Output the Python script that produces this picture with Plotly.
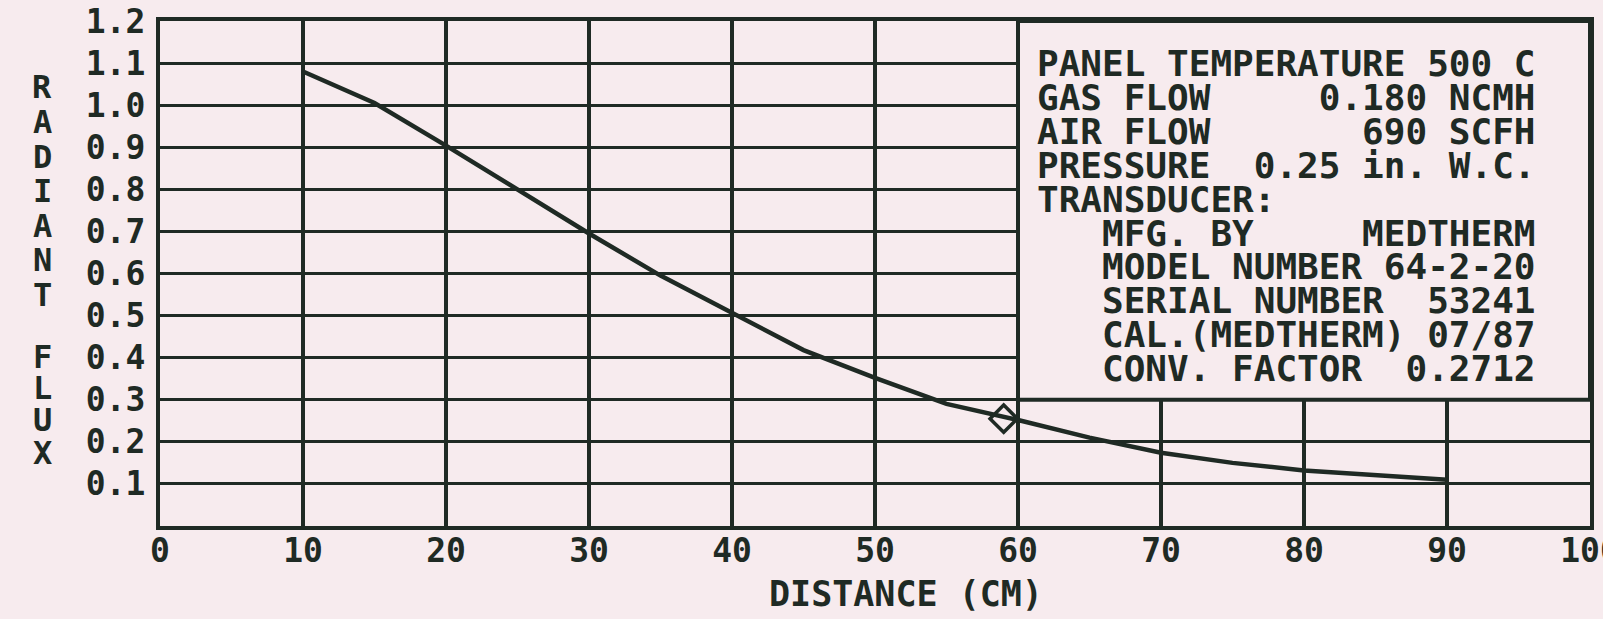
import plotly.graph_objects as go

# ---- data ----
distance_cm = [10, 15, 20, 25, 30, 35, 40, 45, 50, 55, 60, 65, 70, 75, 80, 85, 90]
radiant_flux = [1.08, 1.005, 0.904, 0.799, 0.695, 0.595, 0.505, 0.418, 0.352, 0.29,
                0.252, 0.21, 0.174, 0.15, 0.132, 0.12, 0.11]
marker_x = [59]
marker_y = [0.255]

x_ticks = [0, 10, 20, 30, 40, 50, 60, 70, 80, 90, 100]
x_tick_labels = ["0", "10", "20", "30", "40", "50", "60", "70", "80", "90", "100"]
y_ticks = [0.1, 0.2, 0.3, 0.4, 0.5, 0.6, 0.7, 0.8, 0.9, 1.0, 1.1, 1.2]
y_tick_labels = ["0.1", "0.2", "0.3", "0.4", "0.5", "0.6", "0.7", "0.8", "0.9", "1.0", "1.1", "1.2"]

info_lines = [
    "PANEL TEMPERATURE 500 C",
    "GAS FLOW     0.180 NCMH",
    "AIR FLOW       690 SCFH",
    "PRESSURE  0.25 in. W.C.",
    "TRANSDUCER:",
    "   MFG. BY     MEDTHERM",
    "   MODEL NUMBER 64-2-20",
    "   SERIAL NUMBER  53241",
    "   CAL.(MEDTHERM) 07/87",
    "   CONV. FACTOR  0.2712",
]
y_title_letters = ["R", "A", "D", "I", "A", "N", "T", "F", "L", "U", "X"]
y_title_pixel_rows = [87, 122, 157, 191, 226, 260, 295, 357, 388, 420, 453]

INK = "#1f2a24"
PAPER = "#f7ebee"
FONT = "DejaVu Sans Mono"

W, H = 1603, 619
ML, MR, MT, MB = 160, 13, 21, 93
plot_w = W - ML - MR
plot_h = H - MT - MB


def px_to_paper_x(px):
    return (px - ML) / plot_w


def px_to_paper_y(py):
    return (H - MB - py) / plot_h


fig = go.Figure()
fig.add_trace(go.Scatter(x=distance_cm, y=radiant_flux, mode="lines",
                         line=dict(color=INK, width=4.5), showlegend=False,
                         hoverinfo="skip"))
fig.add_trace(go.Scatter(x=marker_x, y=marker_y, mode="markers",
                         marker=dict(symbol="diamond-open", size=21,
                                     line=dict(color=INK, width=3.5), color=INK),
                         showlegend=False, hoverinfo="skip"))

# info box (covers grid in upper right)
fig.add_shape(type="rect", xref="x", yref="y", x0=60, x1=100, y0=0.3, y1=1.2,
              fillcolor=PAPER, line=dict(color=INK, width=4), layer="above")

first_row_px = 64
row_pitch_px = 33.8
for i, line in enumerate(info_lines):
    fig.add_annotation(x=61.2, y=px_to_paper_y(first_row_px + i * row_pitch_px),
                       xref="x", yref="paper",
                       text=line.replace(" ", "\u00a0"), showarrow=False,
                       xanchor="left", yanchor="middle",
                       font=dict(family=FONT, size=36, color=INK, weight="bold"))

# x axis title
fig.add_annotation(x=px_to_paper_x(906), y=px_to_paper_y(594),
                   xref="paper", yref="paper", text="DISTANCE (CM)", showarrow=False,
                   xanchor="center", yanchor="middle",
                   font=dict(family=FONT, size=35, color=INK, weight="bold"))

# y axis title: stacked letters
for letter, row in zip(y_title_letters, y_title_pixel_rows):
    fig.add_annotation(x=px_to_paper_x(42), y=px_to_paper_y(row),
                       xref="paper", yref="paper", text=letter, showarrow=False,
                       xanchor="center", yanchor="middle",
                       font=dict(family=FONT, size=32, color=INK, weight="bold"))

fig.update_layout(
    template="none",
    width=W, height=H, autosize=False,
    margin=dict(l=ML, r=MR, t=MT, b=MB, pad=0),
    paper_bgcolor=PAPER, plot_bgcolor=PAPER,
    font=dict(family=FONT, color=INK),
    xaxis=dict(range=[0, 100], tickvals=x_ticks, ticktext=x_tick_labels,
               showgrid=True, gridcolor=INK, gridwidth=4,
               showline=True, linecolor=INK, linewidth=4, mirror=True,
               ticks="", zeroline=False, ticklabelstandoff=-8,
               ticklabeloverflow="allow", automargin=False,
               tickfont=dict(family=FONT, size=33, color=INK, weight="bold")),
    yaxis=dict(range=[0, 1.2], tickvals=y_ticks, ticktext=y_tick_labels,
               showgrid=True, gridcolor=INK, gridwidth=3,
               showline=True, linecolor=INK, linewidth=4, mirror=True,
               ticks="", zeroline=False, ticklabelstandoff=4, automargin=False,
               tickfont=dict(family=FONT, size=33, color=INK, weight="bold")),
)

fig.write_html(
    "out.html",
    config={"displayModeBar": False},
    post_script=("document.body.style.margin='0';"
                 "document.body.style.overflow='hidden';"
                 "document.body.style.background='" + PAPER + "';"),
)
